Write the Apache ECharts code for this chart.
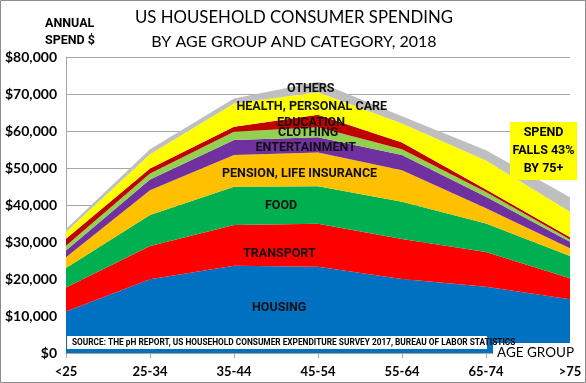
<!DOCTYPE html>
<html><head><meta charset="utf-8">
<script src="https://cdn.jsdelivr.net/npm/echarts@6/dist/echarts.min.js"></script>
<style>html,body{margin:0;padding:0;background:#fff}#c{width:586px;height:383px}</style>
</head><body><div id="c"></div>
<script>
const categories = ['<25','25-34','35-44','45-54','55-64','65-74','>75'];
const housing       = [11200, 19900, 23600, 23300, 20000, 17900, 14500];
const transport     = [6500, 9000, 11000, 11600, 10800, 9400, 5700];
const food          = [5300, 8400, 10350, 10200, 10100, 7700, 6000];
const pension       = [2900, 6700, 8550, 9100, 8500, 4100, 2100];
const entertainment = [1800, 2900, 4050, 4100, 4100, 3100, 1800];
const clothing      = [1300, 1600, 2250, 2700, 1600, 1300, 600];
const education     = [1900, 1350, 1350, 3400, 1800, 700, 600];
const health        = [1800, 3900, 6300, 6100, 5100, 7800, 6900];
const others        = [800, 1300, 1350, 2800, 2000, 2800, 3900];
const seriesNames = ['HOUSING','TRANSPORT','FOOD','PENSION, LIFE INSURANCE','ENTERTAINMENT','CLOTHING','EDUCATION','HEALTH, PERSONAL CARE','OTHERS'];
const seriesData = [housing, transport, food, pension, entertainment, clothing, education, health, others];
const colors = ['#0070C0','#FF0000','#00B050','#FFC000','#7030A0','#92D050','#C00000','#FFFF00','#BFBFBF'];
const FONT = 'Lato';
const LFONT = 'Roboto';

const chart = echarts.init(document.getElementById('c'), null, {renderer:'canvas'});
const txt = (t, x, y, o) => Object.assign({type:'text', x:x, y:y, z:100, style:Object.assign({
  text:t, fill:'#111', fontFamily:LFONT, fontWeight:700, fontSize:12.5, verticalAlign:'middle', align:'left'}, o||{})});
chart.setOption({
  animation:false,
  textStyle:{fontFamily:FONT},
  graphic:[
    {type:'rect', x:0.5, y:0.5, z:200, shape:{width:585, height:382}, style:{fill:'none', stroke:'#8c8c8c', lineWidth:1}},
    txt('US HOUSEHOLD CONSUMER SPENDING', 294, 18, {fontFamily:FONT, fontWeight:'normal', fontSize:16.8, align:'center', fill:'#000'}),
    txt('BY AGE GROUP AND CATEGORY, 2018', 294, 42, {fontFamily:FONT, fontWeight:'normal', fontSize:16, align:'center', fill:'#000'}),
    txt('ANNUAL', 45, 24, {fontSize:12.5, fill:'#000'}),
    txt('SPEND $', 45, 41, {fontSize:12.5, fill:'#000'}),
    txt('OTHERS', 287, 89),
    txt('HEALTH, PERSONAL CARE', 236.5, 106.5),
    txt('EDUCATION', 277, 123),
    txt('CLOTHING', 278, 133),
    txt('ENTERTAINMENT', 255.5, 147.5),
    txt('PENSION, LIFE INSURANCE', 222, 174),
    txt('FOOD', 265, 206),
    txt('TRANSPORT', 243, 254),
    txt('HOUSING', 252, 307.5),
    {type:'rect', x:67, y:336, z:90, shape:{width:420, height:13}, style:{fill:'#fff'}},
    txt('SOURCE: THE pH REPORT, US HOUSEHOLD CONSUMER EXPENDITURE SURVEY 2017, BUREAU OF LABOR STATISTICS', 72, 342.5, {fontSize:8.3, fill:'#000'}),
    {type:'rect', x:493, y:343, z:90, shape:{width:78, height:19}, style:{fill:'#fff'}},
    txt('AGE GROUP', 497, 353, {fontSize:13.5, fill:'#000', fontWeight:'normal', fontFamily:FONT}),
    {type:'rect', x:510, y:122, z:90, shape:{width:67, height:58}, style:{fill:'#FFFF00'}},
    txt('SPEND', 543.5, 133, {align:'center', fill:'#000'}),
    txt('FALLS 43%', 543.5, 151, {align:'center', fill:'#000'}),
    txt('BY 75+', 543.5, 168.5, {align:'center', fill:'#000'})
  ],
  grid:{left:66, right:16, top:57, bottom:30, containLabel:false},
  xAxis:{
    type:'category', data:categories, boundaryGap:false,
    axisLine:{lineStyle:{color:'#a6a6a6'}},
    axisTick:{show:true, length:5, lineStyle:{color:'#a6a6a6'}},
    axisLabel:{color:'#000', fontWeight:'bold', fontSize:13, margin:12, fontFamily:FONT}
  },
  yAxis:{
    type:'value', min:0, max:80000, interval:10000,
    axisLine:{show:true, lineStyle:{color:'#a6a6a6'}},
    axisTick:{show:false},
    splitLine:{lineStyle:{color:'#a6a6a6'}},
    axisLabel:{color:'#000', fontWeight:'bold', fontSize:14, margin:9, fontFamily:FONT,
      formatter:v => '$' + v.toLocaleString('en-US')}
  },
  series: seriesData.map((d,i)=>({
    name:seriesNames[i], type:'line', stack:'total', data:d,
    symbol:'none', lineStyle:{width:0}, areaStyle:{color:colors[i], opacity:1},
    itemStyle:{color:colors[i]}
  }))
});
</script></body></html>
